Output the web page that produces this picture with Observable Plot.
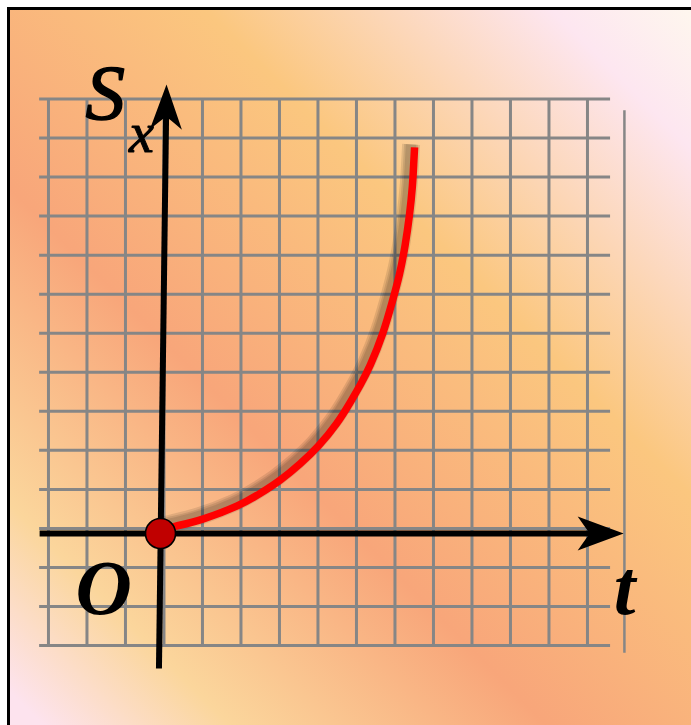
<!DOCTYPE html>
<html>
<head>
<meta charset="utf-8">
<script src="https://cdn.jsdelivr.net/npm/d3@7"></script>
<script src="https://cdn.jsdelivr.net/npm/@observablehq/plot@0.6"></script>
<style>
  html, body { margin: 0; padding: 0; background: #fff; }
  #wrap { position: relative; width: 691px; height: 725px; overflow: hidden; background: #fff; }
  #bg { position: absolute; left: 7px; top: 7px; width: 700px; height: 740px; border: 3px solid #000;
        background: linear-gradient(45deg, #fde3ee 4%, #fbd69c 17%, #f8a67a 39%, #fbc77f 65%, #fde6f0 89%, #fef7ee 99%); }
  #chart { position: absolute; left: 0; top: 0; }
</style>
</head>
<body>
<div id="wrap"><div id="bg"></div><div id="chart"></div></div>
<script>
// Curve S_x(t) (axis units = grid cells)
const curveT = [0, 0.34, 1.04, 2.08, 2.6, 3.12, 3.64, 4.08, 4.6, 4.96, 5.2, 5.43, 5.79, 6.03, 6.21, 6.36, 6.47, 6.55, 6.58, 6.6];
const curveS = [0.08, 0.18, 0.33, 0.72, 1.03, 1.36, 1.79, 2.2, 2.82, 3.41, 3.82, 4.25, 5.12, 5.97, 6.61, 7.38, 8.15, 8.91, 9.55, 9.89];

// Grid lines (grid is offset slightly from the axes)
const gridT = [-2.91, -1.91, -0.91, 0.09, 1.09, 2.09, 3.09, 4.09, 5.09, 6.09, 7.09, 8.09, 9.09, 10.09, 11.09];
const gridS = [-2.87, -1.87, -0.87, 0.13, 1.13, 2.13, 3.13, 4.13, 5.13, 6.13, 7.13, 8.13, 9.13, 10.13, 11.13];
const gridTExtent = [-3.14, 11.69];
const gridSExtent = [-2.87, 11.13];
const edgeT = [12.05];
const edgeSExtent = [-3.07, 10.83];

// Axes
const tAxis = {from: [-3.14, 0], tip: [12.03, 0]};
const sAxis = {from: [-0.04, -3.46], tip: [0.156, 11.5]};
const origin = [{t: 0, s: 0}];

// Labels
const labelText = ["S", "x", "O", "t"];
const labelT = [-1.95, -0.82, -2.21, 11.77];
const labelS = [10.63, 9.76, -2.07, -2.07];

const curvePts = curveT.map((t, i) => ({t, s: curveS[i]}));
const labels = labelText.map((label, i) => ({label, t: labelT[i], s: labelS[i]}));

function arrowHead(angleDeg, len, half, notch) {
  const a = angleDeg * Math.PI / 180, c = Math.cos(a), s = Math.sin(a);
  const P = (x, y) => [x * c - y * s, x * s + y * c];
  return {
    draw(ctx) {
      const p0 = P(0, 0), p1 = P(-len, -half), q1 = P(-notch - 3, -half * 0.25), pn = P(-notch, 0), q2 = P(-notch - 3, half * 0.25), p2 = P(-len, half);
      ctx.moveTo(p0[0], p0[1]);
      ctx.lineTo(p1[0], p1[1]);
      ctx.quadraticCurveTo(q1[0], q1[1], pn[0], pn[1]);
      ctx.quadraticCurveTo(q2[0], q2[1], p2[0], p2[1]);
      ctx.closePath();
    }
  };
}

const sx = 38.5, sy = 39.04, ox = 160, oy = 533;
const W = 691, H = 725;

const shadow = [18, 14, 10.5].map(w => Plot.line(curvePts, {x: "t", y: "s", curve: "basis", dx: -3.5, dy: -3, stroke: "#000", strokeOpacity: 0.1, strokeWidth: w, strokeLinecap: "butt"}));

const plot = Plot.plot({
  width: W, height: H, margin: 0,
  style: {background: "transparent", overflow: "visible"},
  x: {domain: [-ox / sx, (W - ox) / sx], axis: null},
  y: {domain: [(oy - H) / sy, oy / sy], axis: null},
  marks: [
    Plot.ruleX(gridT, {y1: gridSExtent[0], y2: gridSExtent[1], stroke: "#868686", strokeWidth: 3}),
    Plot.ruleY(gridS, {x1: gridTExtent[0], x2: gridTExtent[1], stroke: "#868686", strokeWidth: 3}),
    Plot.ruleX(edgeT, {y1: edgeSExtent[0], y2: edgeSExtent[1], stroke: "#868686", strokeWidth: 2.5}),
    Plot.link([tAxis], {x1: d => d.from[0], y1: d => d.from[1], x2: d => d.tip[0] - 0.8, y2: d => d.tip[1], stroke: "#000", strokeWidth: 6, strokeLinecap: "butt"}),
    Plot.link([sAxis], {x1: d => d.from[0], y1: d => d.from[1], x2: d => d.tip[0] - 0.01, y2: d => d.tip[1] - 0.75, stroke: "#000", strokeWidth: 6, strokeLinecap: "butt"}),
    ...shadow,
    Plot.line(curvePts, {x: "t", y: "s", curve: "basis", stroke: "#ff0000", strokeWidth: 7.5, strokeLinecap: "butt"}),
    Plot.dot([tAxis], {x: d => d.tip[0], y: d => d.tip[1], symbol: arrowHead(0, 46, 17, 34), fill: "#000", stroke: "none"}),
    Plot.dot([sAxis], {x: d => d.tip[0], y: d => d.tip[1], symbol: arrowHead(-89.25, 45, 16, 32), fill: "#000", stroke: "none"}),
    Plot.dot(origin, {x: "t", y: "s", r: 15, fill: "#c00000", stroke: "#000", strokeWidth: 1.6}),
    Plot.text(labels.filter(d => d.label === "S"), {x: "t", y: "s", text: "label", textAnchor: "start", lineAnchor: "bottom", fontFamily: "Liberation Serif", fontStyle: "italic", fontSize: 79, fill: "#000", stroke: "#000", strokeWidth: 1.5, paintOrder: "normal"}),
    Plot.text(labels.filter(d => d.label === "x"), {x: "t", y: "s", text: "label", textAnchor: "start", lineAnchor: "bottom", fontFamily: "Liberation Serif", fontStyle: "italic", fontSize: 56, fill: "#000", stroke: "#000", strokeWidth: 1, paintOrder: "normal"}),
    Plot.text(labels.filter(d => d.label === "O" || d.label === "t"), {x: "t", y: "s", text: "label", textAnchor: "start", lineAnchor: "bottom", fontFamily: "Liberation Serif", fontStyle: "italic", fontWeight: "bold", fontSize: 78, fill: "#000"})
  ]
});
document.getElementById("chart").appendChild(plot);
</script>
</body>
</html>
